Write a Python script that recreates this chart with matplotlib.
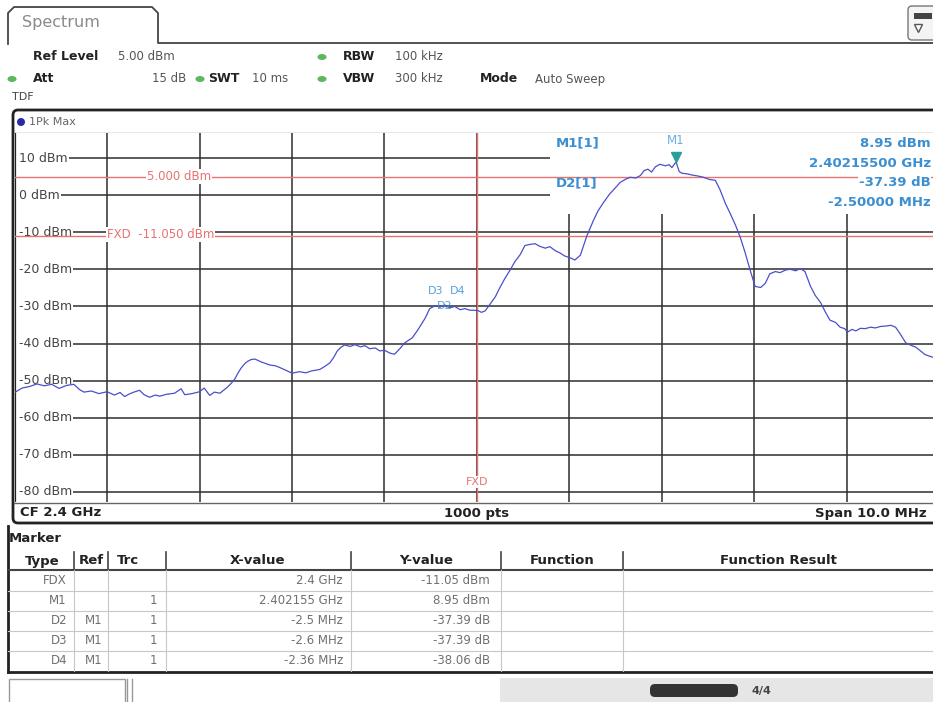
import matplotlib
matplotlib.use("Agg")
import matplotlib.pyplot as plt
from matplotlib.patches import Rectangle, FancyBboxPatch, Ellipse

# --- trace (offset from CF in MHz, level in dBm) ---
freq_offset_mhz = [
    -5.00, -4.92, -4.84, -4.76, -4.68, -4.60, -4.52, -4.44, -4.36, -4.30,
    -4.25, -4.17, -4.09, -4.00, -3.92, -3.86, -3.81, -3.76, -3.71, -3.65,
    -3.60, -3.54, -3.48, -3.43, -3.36, -3.27, -3.20, -3.16, -3.08, -3.00,
    -2.95, -2.89, -2.84, -2.78, -2.74, -2.70, -2.66, -2.62, -2.58, -2.55,
    -2.51, -2.48, -2.44, -2.40, -2.33, -2.24, -2.18, -2.13, -2.05, -2.00,
    -1.92, -1.85, -1.79, -1.70, -1.64, -1.59, -1.55, -1.51, -1.47, -1.43,
    -1.37, -1.32, -1.26, -1.21, -1.16, -1.10, -1.05, -1.00, -0.94, -0.89,
    -0.83, -0.78, -0.70, -0.64, -0.56, -0.51, -0.45, -0.40, -0.35, -0.29,
    -0.24, -0.18, -0.13, -0.08, 0.01, 0.05, 0.09, 0.14, 0.20, 0.25,
    0.30, 0.36, 0.41, 0.47, 0.52, 0.57, 0.63, 0.68, 0.74, 0.79,
    0.85, 0.90, 0.95, 1.01, 1.06, 1.12, 1.19, 1.26, 1.31, 1.37,
    1.44, 1.50, 1.55, 1.61, 1.66, 1.72, 1.77, 1.81, 1.85, 1.89,
    1.93, 1.98, 2.04, 2.08, 2.11, 2.155, 2.19, 2.22, 2.28, 2.33,
    2.38, 2.44, 2.52, 2.58, 2.63, 2.69, 2.74, 2.80, 2.85, 2.90,
    2.96, 3.01, 3.07, 3.12, 3.17, 3.23, 3.28, 3.34, 3.39, 3.45,
    3.50, 3.55, 3.61, 3.66, 3.72, 3.77, 3.82, 3.88, 3.93, 3.98,
    4.01, 4.06, 4.10, 4.15, 4.20, 4.26, 4.31, 4.37, 4.42, 4.48,
    4.53, 4.58, 4.64, 4.69, 4.75, 4.80, 4.85, 4.91, 5.00,
]
level_dbm = [
    -53.2, -52.0, -51.6, -50.9, -51.4, -51.0, -52.1, -51.3, -51.0, -52.4,
    -53.1, -52.8, -53.5, -53.0, -53.9, -53.2, -54.3, -53.6, -53.1, -52.6,
    -53.8, -54.5, -53.9, -54.2, -53.7, -53.4, -52.2, -53.8, -53.5, -53.0,
    -52.0, -54.0, -53.1, -53.4, -52.6, -51.8, -50.8, -49.6, -47.8, -46.6,
    -45.4, -44.8, -44.3, -44.2, -45.0, -45.8, -46.0, -46.5, -47.4, -48.0,
    -47.6, -47.9, -47.4, -47.0, -46.1, -45.2, -43.8, -42.0, -41.0, -40.4,
    -40.8, -40.3, -40.9, -40.6, -41.4, -41.2, -42.0, -41.8, -42.6, -42.9,
    -41.3, -39.8, -38.5, -36.4, -33.2, -30.6, -29.8, -30.2, -29.6, -30.4,
    -30.0, -30.9, -30.6, -31.0, -31.1, -31.6, -31.2, -29.5, -27.4, -24.9,
    -22.6, -20.2, -18.0, -16.0, -13.6, -13.3, -13.1, -13.8, -14.3, -13.9,
    -15.0, -15.6, -16.4, -16.9, -17.5, -16.2, -11.0, -6.9, -4.3, -2.0,
    0.4, 2.0, 3.4, 4.3, 4.8, 4.6, 5.3, 6.6, 7.0, 6.2,
    7.6, 8.3, 7.9, 8.2, 7.4, 8.95, 6.3, 5.9, 5.7, 5.4,
    5.2, 4.9, 4.2, 4.0, 1.5, -2.3, -4.9, -8.2, -11.4, -15.3,
    -20.5, -24.6, -24.9, -23.8, -21.2, -20.6, -20.9, -20.2, -20.0, -20.4,
    -19.8, -20.6, -24.6, -27.0, -29.0, -31.5, -33.7, -34.3, -35.6, -36.0,
    -36.9, -36.2, -36.6, -35.9, -36.0, -35.6, -35.8, -35.4, -35.3, -35.1,
    -35.6, -37.4, -39.8, -40.4, -41.0, -42.0, -43.0, -43.5, -44.3,
]

y_ticks = [10, 0, -10, -20, -30, -40, -50, -60, -70, -80]
ref_level = 5.0
fxd_level = -11.05

# marker table
m_types = ["FDX", "M1", "D2", "D3", "D4"]
m_refs = ["", "", "M1", "M1", "M1"]
m_trcs = ["", "1", "1", "1", "1"]
m_xvals = ["2.4 GHz", "2.402155 GHz", "-2.5 MHz", "-2.6 MHz", "-2.36 MHz"]
m_yvals = ["-11.05 dBm", "8.95 dBm", "-37.39 dB", "-37.39 dB", "-38.06 dB"]
m1_offset = 2.155
m1_level = 8.95
delta_names = ["D2", "D3", "D4"]
delta_offsets = [-2.5, -2.6, -2.36]
delta_levels = [-37.39, -37.39, -38.06]

W, H = 933, 702
fig = plt.figure(figsize=(W / 100, H / 100), dpi=100)
fig.patch.set_facecolor("white")

# background axes in pixel coords for the instrument chrome
bg = fig.add_axes([0, 0, 1, 1])
bg.set_xlim(0, W)
bg.set_ylim(H, 0)
bg.axis("off")

dark = "#222222"
gray_txt = "#555555"
green = "#5cb85c"
mk_blue = "#3b8fd0"

# tab + header
bg.plot([8, 8, 14, 152, 158, 158, W], [44, 13, 7, 7, 13, 43, 43], color="#444", lw=1.3)
bg.text(22, 23, "Spectrum", fontsize=11.5, color="#8a8a8a", va="center")
bg.add_patch(FancyBboxPatch((908, 6), 30, 34, boxstyle="round,pad=0,rounding_size=4",
                            fc="#f4f4f4", ec="#777", lw=1))
bg.add_patch(Rectangle((914, 13), 18, 6, fc="#444", ec="none"))
bg.plot([918], [28], marker="v", ms=6, mfc="white", mec="#555")

def hdr(x, y, s, bold=False):
    bg.text(x, y, s, fontsize=9 if bold else 8.5, color=dark if bold else gray_txt,
            fontweight="bold" if bold else "normal", va="center")

def dot(x, y):
    bg.add_patch(Ellipse((x, y), 9, 6, fc=green, ec="none"))

hdr(33, 57, "Ref Level", True)
hdr(118, 57, "5.00 dBm")
dot(322, 57)
hdr(343, 57, "RBW", True)
hdr(395, 57, "100 kHz")
dot(12, 79)
hdr(33, 79, "Att", True)
hdr(152, 79, "15 dB")
dot(200, 79)
hdr(208, 79, "SWT", True)
hdr(252, 79, "10 ms")
dot(322, 79)
hdr(343, 79, "VBW", True)
hdr(395, 79, "300 kHz")
hdr(480, 79, "Mode", True)
hdr(535, 79, "Auto Sweep")
bg.text(12, 97, "TDF", fontsize=8, color="#444", va="center")

# plot panel frame
bg.add_patch(FancyBboxPatch((13, 110), 940, 413, boxstyle="round,pad=0,rounding_size=5",
                            fc="white", ec=dark, lw=2))
bg.plot([14, W], [133, 133], color="#888", lw=1)
bg.add_patch(Ellipse((21, 122), 8, 8, fc="#2a2aa8", ec="none"))
bg.text(29, 122, "1Pk Max", fontsize=8, color="#666", va="center")
bg.plot([14, W], [503, 503], color="#666", lw=1)
bg.text(20, 513, "CF 2.4 GHz", fontsize=9.5, fontweight="bold", color=dark, va="center")
bg.text(477, 513, "1000 pts", fontsize=9.5, fontweight="bold", color=dark, va="center", ha="center")
bg.text(927, 513, "Span 10.0 MHz", fontsize=9.5, fontweight="bold", color=dark, va="center", ha="right")

# marker table
bg.text(9, 538, "Marker", fontsize=9.5, fontweight="bold", color=dark, va="center")
bg.plot([8, 8], [526, 672], color=dark, lw=2)
bg.plot([8, W], [672, 672], color=dark, lw=2)
bg.plot([8, W], [570, 570], color="#444", lw=1.5)
for yy in [591, 611, 631, 651]:
    bg.plot([8, W], [yy, yy], color="#c8c8c8", lw=0.8)
for xx in [74, 108, 166, 351, 501, 623]:
    bg.plot([xx, xx], [552, 570], color="#444", lw=1.2)
    bg.plot([xx, xx], [570, 671], color="#c8c8c8", lw=0.8)
headers = ["Type", "Ref", "Trc", "X-value", "Y-value", "Function", "Function Result"]
header_x = [42, 91, 128, 258, 426, 562, 778]
for hx, ht in zip(header_x, headers):
    bg.text(hx, 561, ht, fontsize=9.5, fontweight="bold", color=dark, ha="center", va="center")
col_right = [67, 102, 157, 343, 490]
for i in range(len(m_types)):
    yy = 581 + 20 * i
    row = [m_types[i], m_refs[i], m_trcs[i], m_xvals[i], m_yvals[i]]
    for cx, val in zip(col_right, row):
        bg.text(cx, yy, val, fontsize=8.5, color="#707070", ha="right", va="center")

# bottom strip
bg.add_patch(Rectangle((9, 679), 116, 26, fc="white", ec="#999", lw=1))
bg.plot([127, 127], [679, 702], color="#999", lw=1)
bg.plot([132, 132], [679, 702], color="#999", lw=1)
bg.add_patch(Rectangle((500, 678), 440, 26, fc="#e6e6e6", ec="none"))
bg.add_patch(FancyBboxPatch((650, 684), 88, 13, boxstyle="round,pad=0,rounding_size=5",
                            fc="#333", ec="none"))
bg.text(752, 691, "4/4", fontsize=8, fontweight="bold", color="#444", va="center")

# --- spectrum plot ---
ax = fig.add_axes([14.7 / W, 1 - 502 / H, (939 - 14.7) / W, (502 - 133) / H])
ax.set_xlim(-5, 5)
ax.set_ylim(-82.72, 16.74)
ax.set_xticks(range(-5, 6))
ax.set_yticks(y_ticks)
ax.set_axisbelow(True)
ax.grid(True, color="#2e2e2e", lw=1.1)
ax.tick_params(length=0, labelleft=False, labelbottom=False)
for sp in ax.spines.values():
    sp.set_visible(False)

# marker info box hides the grid
ax.add_patch(Rectangle((0.79, -5.1), 4.5, 25, fc="white", ec="none", zorder=1))

for v in y_ticks:
    ax.text(0.0, v, f" {v} dBm", transform=ax.get_yaxis_transform(), fontsize=9,
            color="#444", ha="left", va="center", zorder=1.5, clip_on=True,
            bbox=dict(fc="white", ec="none", pad=1))
ax.axvline(-5, color=dark, lw=1.6, zorder=1.6)

red = "#e87272"
ax.axhline(ref_level, color=red, lw=1, zorder=2)
ax.axhline(fxd_level, color=red, lw=1, zorder=2)
ax.axvline(0, color=red, lw=1, zorder=2)
ax.text(-3.22, ref_level, "5.000 dBm", color=red, fontsize=8.5, ha="center", va="center",
        zorder=2.5, bbox=dict(fc="white", ec="none", pad=0.5))
ax.text(-4.0, fxd_level + 0.4, "FXD  -11.050 dBm", color=red, fontsize=8.5, ha="left",
        va="center", zorder=2.5, bbox=dict(fc="white", ec="none", pad=0.5))
ax.text(0, -77.3, "FXD", color=red, fontsize=8, ha="center", va="center", zorder=2.5,
        bbox=dict(fc="white", ec="none", pad=0.5))

ax.plot(freq_offset_mhz, level_dbm, color="#4a50c8", lw=0.9, zorder=3)

# markers
ax.plot([m1_offset], [m1_level + 1.3], marker="v", ms=7, color="#2a9d9d", zorder=4)
ax.text(m1_offset, 14.6, "M1", color="#6aaee0", fontsize=8.5, ha="center", va="center", zorder=4)
for name, off in zip(delta_names, delta_offsets):
    dy = -25.8 if name != "D2" else -30.0
    ax.text(m1_offset + off, dy, name, color=mk_blue, fontsize=8, ha="center", va="center",
            zorder=4, alpha=0.85)

info_kw = dict(color=mk_blue, fontsize=9.5, fontweight="bold", va="center", zorder=4)
x_right = 4.91
ax.text(0.85, 14.0, "M1[1]", ha="left", **info_kw)
ax.text(0.85, 3.3, "D2[1]", ha="left", **info_kw)
ax.text(x_right, 14.0, f"{m1_level:.2f} dBm", ha="right", **info_kw)
ax.text(x_right, 8.4, "2.40215500 GHz", ha="right", **info_kw)
ax.text(x_right, 3.3, f"{delta_levels[0]:.2f} dB", ha="right",
        bbox=dict(fc="white", ec="none", pad=0.5), **info_kw)
ax.text(x_right, -2.1, f"{delta_offsets[0]:.5f} MHz", ha="right", **info_kw)

fig.savefig("out.png", dpi=100)
